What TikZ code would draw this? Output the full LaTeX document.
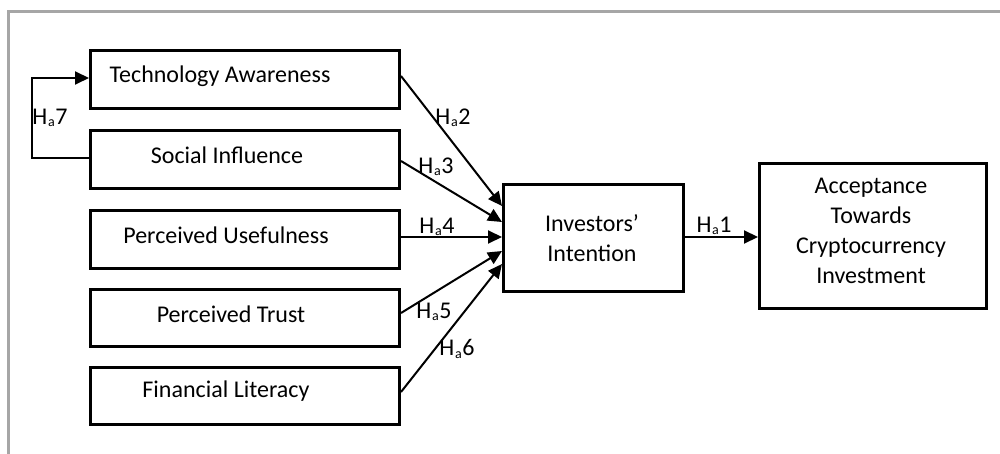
\documentclass[tikz,border=0pt]{standalone}
\usepackage{fontspec}
\setmainfont{Carlito}
\usetikzlibrary{arrows.meta}
\newcommand{\Ha}[1]{H\kern0.3pt\raisebox{-1.2pt}{\fontsize{7pt}{7pt}\selectfont a}\kern0.3pt#1}
\begin{document}
\begin{tikzpicture}[x=0.5pt,y=-0.5pt,
  box/.style={draw, line width=1.5pt, inner sep=0pt, anchor=north west},
  txt/.style={font=\fontsize{12pt}{15pt}\selectfont, inner sep=0pt, align=center},
  conn/.style={line width=1pt, -{Triangle[length=7pt,width=6.5pt]}},
  lab/.style={font=\fontsize{12pt}{14pt}\selectfont, inner sep=0pt}]
\useasboundingbox (0,0) rectangle (1000,454);
% frame
\draw[line width=1.5pt, color={rgb,255:red,166;green,166;blue,166}] (8,454) -- (8,12) -- (1000,12);
% boxes
\node[box, minimum width=154.5pt, minimum height=29pt] (ta) at (89,49) {};
\node[box, minimum width=154.5pt, minimum height=29pt] (si) at (89,129) {};
\node[box, minimum width=154.5pt, minimum height=29pt] (pu) at (89,209) {};
\node[box, minimum width=154.5pt, minimum height=28.5pt] (pt) at (89,288) {};
\node[box, minimum width=154.5pt, minimum height=28.5pt] (fl) at (89,366) {};
\node[box, minimum width=90pt, minimum height=53.5pt] (ii) at (502,183) {};
\node[box, minimum width=113.5pt, minimum height=72.5pt] (ac) at (758,162) {};
% texts
\node[txt] (tat) at (220,76) {Technology Awareness};
\node[txt] (sit) at (227,155) {Social Influence};
\node[txt] (put) at (226,235) {Perceived Usefulness};
\node[txt] (ptt) at (231,314) {Perceived Trust};
\node[txt] (flt) at (226,391) {Financial Literacy};
\node[txt] (iit) at (592,238) {Investors’\\Intention};
\node[txt] (act) at (871,231) {Acceptance\\Towards\\Cryptocurrency\\Investment};
% connectors
\coordinate (e2) at (502,206);
\coordinate (e3) at (502,222);
\coordinate (e4) at (502,237);
\coordinate (e5) at (502,251);
\coordinate (e6) at (502,264);
\draw[conn] (ta.east |- 0,76) -- (e2);
\draw[conn] (si.east |- 0,161) -- (e3);
\draw[conn] (pu.east |- 0,237) -- (e4);
\draw[conn] (pt.east |- 0,313) -- (e5);
\draw[conn] (fl.east |- 0,392) -- (e6);
\draw[conn] (ii.east |- 0,237) -- (ac.west |- 0,237);
\draw[conn] (si.west |- 0,158) -- (32,158) -- (32,78) -- (ta.west |- 0,78);
% labels
\node[lab] at (453,118) {\Ha{2}};
\node[lab] at (436,167) {\Ha{3}};
\node[lab] at (437,227) {\Ha{4}};
\node[lab] at (434,312) {\Ha{5}};
\node[lab] at (457,349) {\Ha{6}};
\node[lab] at (714,226) {\Ha{1}};
\node[lab] at (50,118) {\Ha{7}};
\end{tikzpicture}
\end{document}
